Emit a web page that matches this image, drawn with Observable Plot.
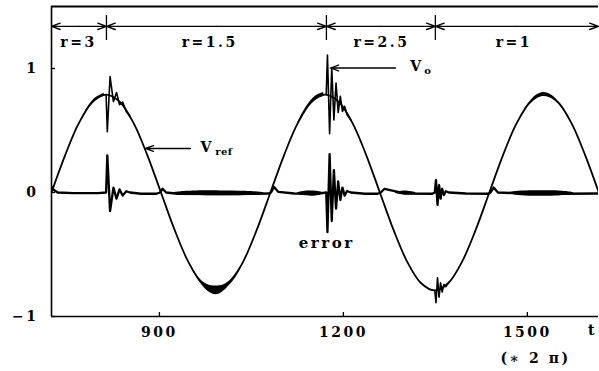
<!DOCTYPE html>
<html><head><meta charset="utf-8">
<script src="https://cdn.jsdelivr.net/npm/d3@7"></script>
<script src="https://cdn.jsdelivr.net/npm/@observablehq/plot@0.6"></script>
<style>
html,body{margin:0;padding:0;background:#fff;}
#chart svg{display:block;}
</style>
</head><body><div id="chart"></div>
<script>
// ---- axes ----
const xDomain = [724, 1616];
const yDomain = [-1, 1.5];
const xTicks = [900, 1200, 1500];
const yTicks = [-1, 0, 1];

// ---- V_ref ----
const refT = [724, 746.3, 768.6, 790.9, 813.3, 835.6, 857.9, 880.2, 902.5, 924.8, 947.1, 969.4, 991.8, 1014.1, 1036.4, 1058.7, 1081.0, 1103.3, 1125.6, 1147.9, 1170.3, 1192.6, 1214.9, 1237.2, 1259.5, 1281.8, 1304.1, 1326.4, 1348.8, 1371.1, 1393.4, 1415.7, 1438.0, 1460.3, 1482.6, 1504.9, 1527.3, 1549.6, 1571.9, 1594.2, 1616.5];
const refV = [0, .302, .559, .730, .79, .730, .559, .302, 0, -.302, -.559, -.730, -.79, -.730, -.559, -.302, 0, .302, .559, .730, .79, .730, .559, .302, 0, -.302, -.559, -.730, -.79, -.730, -.559, -.302, 0, .302, .559, .730, .79, .730, .559, .302, 0];

// ---- V_o transients (where V_o leaves V_ref) ----
const voT = [813, 815, 819.5, 825, 830, 835, 840, 846, 852,
  1172, 1174, 1177.5, 1181, 1184.5, 1188, 1191.5, 1195, 1198.5, 1202, 1206, 1212,
  1349, 1351, 1353.5, 1356, 1358.5, 1361, 1364, 1367, 1372];
const voV = [.79, .49, .935, .733, .806, .708, .729, .652, .613,
  .790, 1.108, .474, 1.006, .585, .882, .645, .776, .654, .695, .627, .586,
  -.79, -.889, -.687, -.844, -.728, -.802, -.742, -.760, -.725];
const voSeg = [1,1,1,1,1,1,1,1,1, 2,2,2,2,2,2,2,2,2,2,2,2, 3,3,3,3,3,3,3,3,3];

// ---- V_o ripple envelope (thick parts of the curve) ----
const voBandT  = [780, 795, 810,   950, 965, 978, 992, 1005, 1018, 1032,   1125, 1140, 1155, 1168,   1495, 1508, 1518, 1527, 1537, 1548, 1560];
const voBandLo = [.655, .740, .777,   -.590, -.716, -.792, -.825, -.794, -.719, -.604,   .549, .669, .746, .774,   .662, .735, .766, .774, .764, .728, .658];
const voBandHi = [.663, .760, .801,   -.582, -.692, -.742, -.755, -.744, -.695, -.596,   .555, .693, .778, .806,   .670, .755, .794, .806, .792, .748, .666];
const voBandSeg = [1,1,1, 2,2,2,2,2,2,2, 3,3,3,3, 4,4,4,4,4,4,4];

// ---- error ----
const errT = [724, 728, 734, 760, 800, 813, 815, 819.5, 825, 830, 835, 840, 846, 852, 870, 895, 901, 905, 911, 930, 1000, 1060, 1078, 1082, 1087, 1094, 1120, 1160, 1172, 1174, 1177.5, 1181, 1184.5, 1188, 1191.5, 1195, 1198.5, 1202, 1206, 1212, 1235, 1256, 1261, 1267, 1300, 1345, 1349, 1351, 1353.5, 1356, 1358.5, 1361, 1364, 1367, 1372, 1400, 1436, 1440, 1445, 1452, 1500, 1560, 1616];
const errV = [0.05, 0.02, 0.0, -0.005, -0.005, 0, 0.30, -0.15, 0.04, -0.05, 0.025, -0.025, 0.01, 0, -0.01, -0.01, 0.0, 0.03, 0.0, -0.01, -0.012, -0.01, -0.008, 0.0, 0.045, 0.005, -0.008, -0.01, 0, -0.32, 0.31, -0.23, 0.18, -0.13, 0.09, -0.06, 0.04, -0.025, 0.012, 0, -0.01, -0.01, 0.0, 0.03, -0.008, -0.01, 0, 0.1, -0.1, 0.06, -0.05, 0.03, -0.02, 0.01, 0, -0.008, -0.01, 0.0, 0.04, 0.0, -0.01, -0.01, -0.008];

// ---- error ripple envelope ----
const errBandT  = [925, 940, 960, 1000, 1040, 1060, 1070,   1125, 1135, 1155, 1168,   1285, 1300, 1318,   1470, 1485, 1510, 1540, 1562, 1575];
const errBandLo = [-0.008, -0.02, -0.025, -0.027, -0.024, -0.016, -0.008,   -0.01, -0.025, -0.028, -0.012,   -0.008, -0.02, -0.008,   -0.008, -0.024, -0.03, -0.03, -0.022, -0.008];
const errBandHi = [0.0, 0.008, 0.012, 0.013, 0.01, 0.004, 0.0,   -0.004, 0.008, 0.01, 0.0,   0.0, 0.012, 0.0,   0.0, 0.01, 0.014, 0.014, 0.008, 0.0];
const errBandSeg = [1,1,1,1,1,1,1, 2,2,2,2, 3,3,3, 4,4,4,4,4,4];

// ---- r intervals (top) ----
const segStart = [724, 813.6, 1172.3, 1350];
const segEnd   = [813.6, 1172.3, 1350, 1616];
const rLabels  = ["r=3", "r=1.5", "r=2.5", "r=1"];
const rLabelT  = [768, 982, 1262, 1478];

// ---- annotation anchors (data units) ----
const intervalY = 1.34, intervalTickLo = 1.226, intervalTickHi = 1.427, intervalLabelY = 1.21;
const refArrow = {x1: 950.5, x2: 877, y: 0.355, textX: 967, subX: 991};
const voArrow = {x1: 1285, x2: 1178.8, y: 1.004, textX: 1309, subX: 1332};
const errLabel = {x: 1172.7, y: -0.41};

const ref = refT.map((t, i) => ({t, v: refV[i]}));
const vo = voT.map((t, i) => ({t, v: voV[i], s: voSeg[i]}));
const voBand = voBandT.map((t, i) => ({t, lo: voBandLo[i], hi: voBandHi[i], s: voBandSeg[i]}));
const err = errT.map((t, i) => ({t, v: errV[i]}));
const errBand = errBandT.map((t, i) => ({t, lo: errBandLo[i], hi: errBandHi[i], s: errBandSeg[i]}));
const segs = segStart.map((s, i) => ({s, e: segEnd[i], m: (s + segEnd[i]) / 2, label: rLabels[i], lx: rLabelT[i]}));
const bounds = segStart.slice(1);

const fmt = d => d < 0 ? "\u2212" + Math.abs(d) : String(d);
const font = "DejaVu Serif";
const W = "bold";
const chart = Plot.plot({
  width: 599, height: 371,
  marginLeft: 51, marginRight: 1, marginTop: 6, marginBottom: 55,
  x: {domain: xDomain},
  y: {domain: yDomain},
  style: {fontFamily: font, fontSize: "14px", letterSpacing: "2.5px", background: "white", color: "black"},
  marks: [
    Plot.ruleX([xDomain[0]], {strokeWidth: 1.6}),
    Plot.ruleY([yDomain[0]], {strokeWidth: 1.5}),
    Plot.ruleY([yDomain[1]], {strokeWidth: 2}),
    Plot.axisX(xTicks, {tickSize: 4, dy: -4, tickPadding: 11, label: null, tickFormat: fmt, fontSize: 14, fontWeight: W, strokeWidth: 1.3}),
    Plot.axisY(yTicks, {tickSize: 4, dx: 4, tickPadding: 13, label: null, tickFormat: fmt, fontSize: 14, fontWeight: W, strokeWidth: 1.3}),
    Plot.areaY(errBand, {x: "t", y1: "lo", y2: "hi", z: "s", fill: "black", curve: "catmull-rom"}),
    Plot.areaY(voBand, {x: "t", y1: "lo", y2: "hi", z: "s", fill: "black", curve: "catmull-rom"}),
    Plot.line(ref, {x: "t", y: "v", curve: "catmull-rom", strokeWidth: 1.8, clip: true}),
    Plot.line(vo, {x: "t", y: "v", z: "s", strokeWidth: 1.6, clip: true}),
    Plot.line(err, {x: "t", y: "v", strokeWidth: 2.3, clip: true}),
    // r intervals
    Plot.arrow(segs, {x1: "m", x2: "s", y1: () => intervalY, y2: () => intervalY, headLength: 10, headAngle: 40, strokeWidth: 1.4}),
    Plot.arrow(segs, {x1: "m", x2: "e", y1: () => intervalY, y2: () => intervalY, headLength: 10, headAngle: 40, strokeWidth: 1.4}),
    Plot.ruleX(bounds, {y1: () => intervalTickLo, y2: () => intervalTickHi, strokeWidth: 1.3}),
    Plot.text(segs, {x: "lx", y: () => intervalLabelY, text: "label", fontSize: 14, fontWeight: W, textAnchor: "middle", lineAnchor: "middle"}),
    // V_ref label
    Plot.arrow([refArrow], {x1: "x1", x2: "x2", y1: "y", y2: "y", headLength: 10, headAngle: 40, strokeWidth: 1.3}),
    Plot.text([refArrow], {x: "textX", y: "y", text: () => "V", fontSize: 14, fontWeight: W, textAnchor: "start", lineAnchor: "middle", dy: -1}),
    Plot.text([refArrow], {x: "subX", y: "y", text: () => "ref", fontSize: 10, fontWeight: W, textAnchor: "start", lineAnchor: "middle", dy: 3}),
    // V_o label
    Plot.arrow([voArrow], {x1: "x1", x2: "x2", y1: "y", y2: "y", headLength: 10, headAngle: 40, strokeWidth: 1.3}),
    Plot.text([voArrow], {x: "textX", y: "y", text: () => "V", fontSize: 14, fontWeight: W, textAnchor: "start", lineAnchor: "middle", dy: -1}),
    Plot.text([voArrow], {x: "subX", y: "y", text: () => "o", fontSize: 10, fontWeight: W, textAnchor: "start", lineAnchor: "middle", dy: 3}),
    // error label
    Plot.text([errLabel], {x: "x", y: "y", text: () => "error", fontSize: 15, fontWeight: W, textAnchor: "middle", lineAnchor: "middle"}),
    // axis annotations
    Plot.text(["t"], {frameAnchor: "bottom-right", text: d => d, dx: -6, dy: 14, fontSize: 14, fontWeight: W, textAnchor: "middle", lineAnchor: "middle"}),
    Plot.text(["(\u2217 2 \u03c0)"], {frameAnchor: "bottom-right", text: d => d, dx: -63, dy: 42, fontSize: 14, fontWeight: W, textAnchor: "middle", lineAnchor: "middle"})
  ]
});
// tighter spacing for the subscripts
d3.select(chart).selectAll("text").filter(function() { return this.textContent === "ref" || this.textContent === "o"; }).style("letter-spacing", "0.5px");
document.getElementById("chart").appendChild(chart);
</script>
</body></html>
